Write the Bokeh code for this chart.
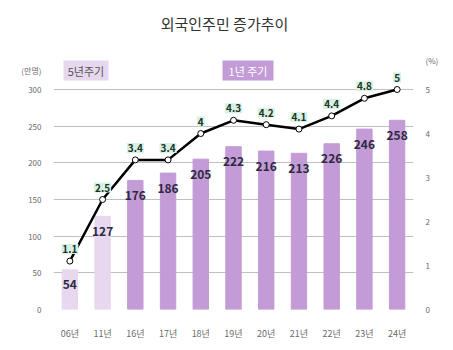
from bokeh.plotting import figure
from bokeh.models import (ColumnDataSource, FactorRange, Range1d, LinearAxis,
                          FixedTicker, CategoricalAxis)
from bokeh.core.properties import value
from bokeh.embed import file_html
from bokeh.resources import INLINE

# ---------------- data ----------------
years = ["06년", "11년", "16년", "17년", "18년", "19년", "20년", "21년", "22년", "23년", "24년"]
population = [54, 127, 176, 186, 205, 222, 216, 213, 226, 246, 258]   # 만명
ratio = [1.1, 2.5, 3.4, 3.4, 4, 4.3, 4.2, 4.1, 4.4, 4.8, 5]          # %
cycle = ["5년주기", "5년주기", "1년 주기", "1년 주기", "1년 주기", "1년 주기",
         "1년 주기", "1년 주기", "1년 주기", "1년 주기", "1년 주기"]
left_ticks = [0, 50, 100, 150, 200, 250, 300]
right_ticks = [0, 1, 2, 3, 4, 5]
title_text = "외국인주민 증가추이"
left_unit = "(만명)"
right_unit = "(%)"

# ---------------- style ----------------
KR = "Noto Sans CJK KR"
LIGHT = "#E7D8EF"
MED = "#C39BD6"
cmap = {"5년주기": LIGHT, "1년 주기": MED}

W, H = 453, 350
F_LEFT, F_RIGHT, F_TOP, F_BOTTOM = 53, 413, 0, 309
ppu_left = 220 / 300.0      # px per 만명
ppu_right = 44.0            # px per %

y_end = (F_BOTTOM - F_TOP) / ppu_left
pct_end = (F_BOTTOM - F_TOP) / ppu_right

# unit captions sit at the top of each axis (as an extra labelled tick)
left_unit_at = 326          # 만명 scale position of "(만명)"
right_unit_at = 5.66        # % scale position of "(%)"


def px2x(px):
    """screen x (pixels) -> synthetic categorical coordinate"""
    return (px - F_LEFT) / (F_RIGHT - F_LEFT) * len(years)


def pxw(w):
    return w / (F_RIGHT - F_LEFT) * len(years)


src = ColumnDataSource(dict(
    year=years, pop=population, ratio=ratio,
    color=[cmap[c] for c in cycle],
    pop_txt=[str(v) for v in population],
    ratio_txt=[("%g" % v) for v in ratio],
))

p = figure(width=W, height=H, x_range=FactorRange(*years, range_padding=0),
           y_range=Range1d(0, y_end), output_backend="svg", toolbar_location=None,
           min_border_left=F_LEFT, min_border_right=W - F_RIGHT,
           min_border_top=F_TOP, min_border_bottom=H - F_BOTTOM,
           x_axis_location=None, y_axis_location=None)
p.outline_line_color = None
p.background_fill_color = "white"
p.border_fill_color = "white"
p.xgrid.visible = False

p.extra_y_ranges = {"pct": Range1d(0, pct_end), "pxy": Range1d(F_BOTTOM, F_TOP)}

# axes
la = LinearAxis(ticker=FixedTicker(ticks=left_ticks + [left_unit_at]))
la.major_label_overrides = {left_unit_at: left_unit}
la.axis_line_color = None
la.major_tick_line_color = None
la.minor_tick_line_color = None
la.major_label_text_font = KR
la.major_label_text_font_size = "8px"
la.major_label_text_color = "#6b6b6b"
la.major_label_standoff = 6
p.add_layout(la, "left")

ra = LinearAxis(y_range_name="pct", ticker=FixedTicker(ticks=right_ticks + [right_unit_at]))
ra.major_label_overrides = {right_unit_at: right_unit}
ra.axis_line_color = None
ra.major_tick_line_color = None
ra.minor_tick_line_color = None
ra.major_label_text_font = KR
ra.major_label_text_font_size = "8px"
ra.major_label_text_color = "#6b6b6b"
ra.major_label_standoff = 6
p.add_layout(ra, "right")

xa = CategoricalAxis()
xa.axis_line_color = None
xa.major_tick_line_color = None
xa.minor_tick_line_color = None
xa.major_label_text_font = KR
xa.major_label_text_font_size = "9px"
xa.major_label_text_color = "#6b6b6b"
xa.major_label_standoff = 11
p.add_layout(xa, "below")

p.ygrid.ticker = FixedTicker(ticks=left_ticks)
p.ygrid.grid_line_color = "#BFBFBF"
p.ygrid.grid_line_width = 1

# bars
p.vbar(x="year", top="pop", width=0.47, color="color", source=src)
p.text(x="year", y="pop", text="pop_txt", source=src, y_offset=15,
       text_align="center", text_baseline="middle",
       text_font=value(KR), text_font_size="12px", text_font_style="bold",
       text_color="#2E2A40")

# line
p.line(x="year", y="ratio", y_range_name="pct", source=src,
       line_color="black", line_width=2.5)
p.scatter(x="year", y="ratio", y_range_name="pct", source=src, size=6,
          fill_color="white", line_color="black", line_width=1)
p.text(x="year", y="ratio", y_range_name="pct", text="ratio_txt", source=src,
       y_offset=-12, text_align="center", text_baseline="middle",
       text_font=value(KR), text_font_size="10px", text_font_style="bold",
       text_color="#1E3327", background_fill_color="#D6F2E4", padding=1)

# title and legend boxes
p.text(x=[px2x(224)], y=[23], y_range_name="pxy",
       text=[title_text], text_align="center", text_baseline="middle",
       text_font=value(KR), text_font_size="15px", text_color="#333333")

p.rect(x=[px2x(85.5)], y=[70], width=[pxw(45)], height=[20],
       y_range_name="pxy", fill_color=LIGHT, line_color=None)
p.text(x=[px2x(85.5)], y=[70], y_range_name="pxy", text=["5년주기"],
       text_align="center", text_baseline="middle", text_font=value(KR),
       text_font_size="11px", text_color="#555555")
p.rect(x=[px2x(247.5)], y=[70], width=[pxw(51)], height=[20],
       y_range_name="pxy", fill_color=MED, line_color=None)
p.text(x=[px2x(247.5)], y=[70], y_range_name="pxy", text=["1년 주기"],
       text_align="center", text_baseline="middle", text_font=value(KR),
       text_font_size="11px", text_color="white")

open("out.html", "w").write(file_html(p, INLINE))
